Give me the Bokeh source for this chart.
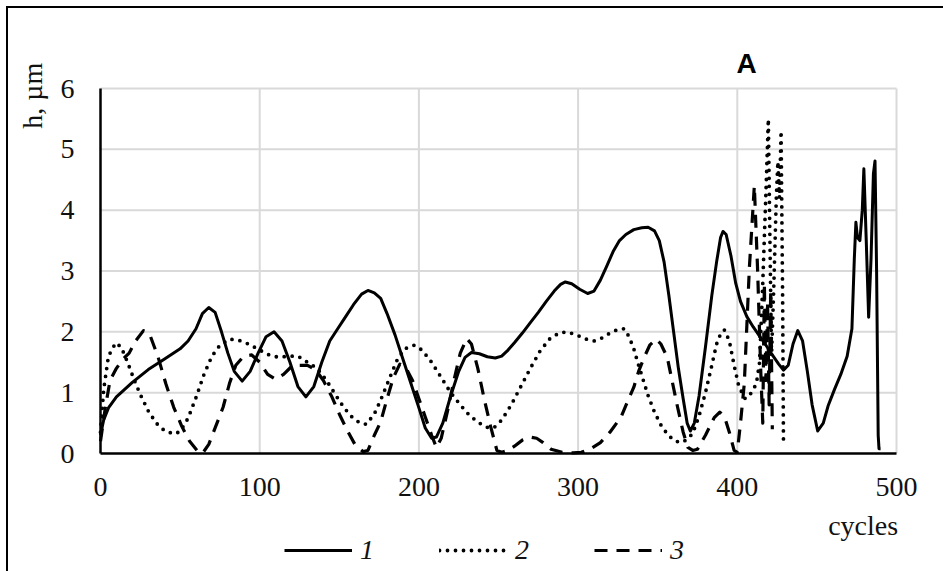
import math
from bokeh.plotting import figure
from bokeh.models import (Range1d, Legend, LegendItem, FixedTicker, InlineStyleSheet, LinearAxis, Label)
from bokeh.embed import file_html
from bokeh.resources import INLINE

# ---- data ----
x_ticks = [0, 100, 200, 300, 400, 500]
y_ticks = [0, 1, 2, 3, 4, 5, 6]
series_names = ["1", "2", "3"]

s1_x = [0, 2, 5, 10, 15, 20, 30, 40, 50, 55, 60, 64, 68, 72, 76, 80, 84, 89, 94, 99, 104, 109, 114, 119, 124,
        129, 134, 139, 144, 149, 154, 159, 164, 168, 172, 176, 180, 185, 190, 195, 200, 204, 208, 211, 215,
        220, 225, 229, 233, 238, 243, 248, 252, 256, 260, 265, 270, 275, 280, 285, 289, 292, 296, 301, 306,
        310, 314, 318, 322, 326, 330, 335, 340, 344, 348, 351, 354, 357, 360, 363, 366, 368.5, 370.5, 373,
        376, 380, 384, 387, 389.5, 391, 393, 396, 399, 402, 406, 410, 414, 418, 422, 426, 429, 432, 435, 438,
        441, 444, 447, 450.5, 454, 457, 461, 465, 469, 472, 473.5, 474.5, 475.5, 477, 478.5, 479.5, 481,
        482.5, 484, 485.5, 486.5, 487.5, 488.5, 489, 490]
s1_y = [0.3, 0.55, 0.75, 0.93, 1.05, 1.17, 1.38, 1.55, 1.72, 1.85, 2.05, 2.3, 2.4, 2.32, 2.0, 1.65, 1.35, 1.19,
        1.35, 1.65, 1.92, 2.0, 1.85, 1.5, 1.1, 0.93, 1.1, 1.5, 1.85, 2.05, 2.25, 2.45, 2.62, 2.68, 2.64, 2.55,
        2.3, 1.95, 1.55, 1.15, 0.75, 0.42, 0.25, 0.27, 0.5, 0.95, 1.35, 1.58, 1.66, 1.64, 1.59, 1.57, 1.6, 1.7,
        1.82, 1.98, 2.15, 2.32, 2.5, 2.67, 2.78, 2.82, 2.79, 2.7, 2.63, 2.67, 2.85, 3.08, 3.32, 3.5, 3.6, 3.68,
        3.71, 3.72, 3.66, 3.5, 3.15, 2.6, 2.0, 1.4, 0.9, 0.5, 0.37, 0.5, 0.95, 1.75, 2.6, 3.15, 3.55, 3.65,
        3.6, 3.25, 2.8, 2.5, 2.25, 2.08, 1.93, 1.78, 1.62, 1.47, 1.37, 1.45, 1.8, 2.02, 1.85, 1.35, 0.8, 0.37,
        0.5, 0.78, 1.05, 1.3, 1.6, 2.05, 3.2, 3.8, 3.55, 3.5, 4.0, 4.68, 3.5, 2.24, 3.2, 4.6, 4.81, 3.0, 0.3,
        0.08, 0.08]

s2_x = [0, 2, 5, 9.5, 13, 17, 21, 25, 30, 35, 40, 46, 50, 55, 60, 65, 70, 75, 81, 87, 93, 100, 106, 112, 118,
        124, 130, 136, 142, 148, 153, 158, 163, 167, 172, 176, 181, 186, 191, 197, 202, 208, 214, 220, 226,
        232, 238, 243, 247, 252, 258, 264, 270, 276, 282, 288, 293, 299, 305, 310, 315, 320, 325, 329, 332,
        335, 338, 341, 344, 348, 352, 356, 360, 364, 368, 372, 376, 380, 384, 387, 390, 392, 395, 398, 401,
        405, 409, 412, 414, 416, 418, 419.5, 420.5, 421.5, 423, 424.5, 425.5, 426.5, 427.5, 428.5, 429]
s2_y = [0.35, 1.05, 1.6, 1.82, 1.75, 1.5, 1.22, 0.97, 0.7, 0.5, 0.38, 0.32, 0.36, 0.58, 0.92, 1.3, 1.6, 1.78,
        1.88, 1.86, 1.8, 1.7, 1.62, 1.58, 1.6, 1.6, 1.5, 1.4, 1.2, 0.95, 0.75, 0.6, 0.5, 0.48, 0.65, 0.88, 1.2,
        1.52, 1.72, 1.78, 1.7, 1.5, 1.25, 1.0, 0.8, 0.62, 0.5, 0.43, 0.42, 0.55, 0.8, 1.1, 1.4, 1.68, 1.88,
        1.98, 2.0, 1.95, 1.88, 1.85, 1.9, 1.98, 2.04, 2.05, 1.92, 1.72, 1.45, 1.2, 0.95, 0.68, 0.47, 0.32,
        0.22, 0.18, 0.22, 0.33, 0.62, 1.0, 1.45, 1.8, 2.0, 2.03, 1.85, 1.45, 1.1, 0.9, 1.0, 1.15, 1.5, 2.8,
        4.3, 5.5, 3.5, 1.6, 2.8, 4.2, 4.8, 4.2, 5.3, 2.5, 0.2]

s3_x = [0, 3, 6, 10, 14, 18, 22, 27, 31, 36, 41, 46, 51, 56, 61, 64, 68, 72, 77, 81, 85, 90, 95, 100, 105,
        110, 115, 120, 125, 130, 135, 140, 145, 150, 155, 160, 165, 168, 172, 176, 180, 184, 188, 192, 196,
        200, 204, 208, 211, 214, 218, 222, 226, 230, 233, 237, 241, 245, 249, 252, 256, 260, 265, 270, 274,
        278, 283, 290, 297, 302, 308, 314, 320, 327, 331, 335, 338, 341.5, 345, 349, 352, 356, 359, 362.5,
        366, 369, 372, 375, 380, 385.5, 389, 392, 395, 398, 400, 402, 404.4, 407.6, 410.7, 412.7, 414.8, 416,
        417, 418, 419, 420, 421, 422]
s3_y = [0.2, 0.75, 1.2, 1.4, 1.55, 1.65, 1.85, 2.02, 1.95, 1.6, 1.15, 0.76, 0.45, 0.2, 0.04, 0.0, 0.15, 0.42,
        0.76, 1.15, 1.45, 1.6, 1.62, 1.5, 1.3, 1.22, 1.3, 1.43, 1.45, 1.45, 1.38, 1.2, 0.95, 0.65, 0.38, 0.14,
        0.03, 0.05, 0.3, 0.52, 0.9, 1.25, 1.47, 1.4, 1.2, 0.9, 0.6, 0.3, 0.1, 0.25, 0.7, 1.2, 1.65, 1.89, 1.8,
        1.4, 0.9, 0.45, 0.05, 0.02, 0.05, 0.12, 0.22, 0.27, 0.25, 0.18, 0.07, 0.02, 0.01, 0.02, 0.08, 0.18,
        0.35, 0.6, 0.85, 1.09, 1.35, 1.58, 1.78, 1.88, 1.8, 1.58, 1.2, 0.76, 0.35, 0.1, 0.05, 0.07, 0.3, 0.59,
        0.68, 0.6, 0.35, 0.05, 0.02, 0.5, 1.15, 3.06, 4.4, 3.06, 1.31, 0.5, 2.8, 1.2, 2.5, 0.8, 2.7, 0.4]

SERIF = "Liberation Serif"
SANS = "Liberation Sans"
FS = "28px"
TXT = "#111111"
GRID = "#d9d9d9"

frame_css = InlineStyleSheet(css="""
:host::after {
  content: ""; position: absolute; left: 6px; top: 6px;
  width: 937px; height: 565px; box-sizing: border-box;
  border-left: 2.5px solid black; border-top: 2.5px solid black;
  pointer-events: none;
}
""")

# The frame covers the whole page; the 0..500 x 0..6 plotting area sits at
# px x 100..896 and px y 88..453, texts and legend live in the margins of the frame.
W, H = 943, 571
PX_X = 796 / 500.0
PX_Y = 365 / 6.0
x_lo, x_hi = -100 / PX_X, (W - 100) / PX_X
y_lo, y_hi = -(H - 453) / PX_Y, 6 + 88 / PX_Y

p = figure(frame_width=W, frame_height=H, output_backend="svg", toolbar_location=None,
           x_range=Range1d(x_lo, x_hi), y_range=Range1d(y_lo, y_hi),
           x_axis_location=None, y_axis_location=None,
           min_border_left=0, min_border_right=0, min_border_top=0, min_border_bottom=0)
p.stylesheets = [frame_css]
p.outline_line_color = None
p.background_fill_color = "white"
p.border_fill_color = "white"
p.grid.visible = False

xaxis = LinearAxis(fixed_location=0)
yaxis = LinearAxis(fixed_location=0)
p.add_layout(xaxis, "below")
p.add_layout(yaxis, "left")

for ax, ticks in ((xaxis, x_ticks), (yaxis, y_ticks)):
    ax.ticker = FixedTicker(ticks=ticks)
    ax.bounds = (ticks[0], ticks[-1])
    ax.axis_line_color = "black"
    ax.axis_line_width = 2.5
    ax.major_tick_line_color = None
    ax.minor_tick_line_color = None
    ax.major_tick_out = 0
    ax.major_tick_in = 0
    ax.major_label_text_font = SERIF
    ax.major_label_text_font_size = FS
    ax.major_label_text_color = TXT
xaxis.major_label_standoff = 24
yaxis.major_label_standoff = 26

# grid lines over the plotting area only
p.segment(x0=x_ticks[1:], y0=[y_ticks[0]] * (len(x_ticks) - 1),
          x1=x_ticks[1:], y1=[y_ticks[-1]] * (len(x_ticks) - 1),
          line_color=GRID, line_width=2, level="underlay")
p.segment(x0=[x_ticks[0]] * (len(y_ticks) - 1), y0=y_ticks[1:],
          x1=[x_ticks[-1]] * (len(y_ticks) - 1), y1=y_ticks[1:],
          line_color=GRID, line_width=2, level="underlay")

r1 = p.line(s1_x, s1_y, line_color="black", line_width=3, line_join="round")
r2 = p.line(s2_x, s2_y, line_color="black", line_width=3.8, line_dash="0 8", line_cap="round",
            line_join="round")
r3 = p.line(s3_x, s3_y, line_color="black", line_width=3.2, line_dash="13 9", line_join="round")

# texts
p.add_layout(Label(x=405.8, y=6.41, text="A", text_font=SANS, text_font_style="bold",
                   text_font_size="28px", text_align="center", text_baseline="middle",
                   text_color="black"))
p.add_layout(Label(x=-42.7, y=5.88, text="h, µm", text_font=SERIF, text_font_size=FS,
                   angle=math.pi / 2, text_align="center", text_baseline="middle", text_color=TXT))
p.add_layout(Label(x=501, y=-1.18, text="cycles", text_font=SERIF, text_font_size=FS,
                   text_align="right", text_baseline="middle", text_color=TXT))

legend = Legend(items=[LegendItem(label=series_names[0], renderers=[r1]),
                       LegendItem(label=series_names[1], renderers=[r2]),
                       LegendItem(label=series_names[2], renderers=[r3])],
                orientation="horizontal", location=(284, 5),
                glyph_width=68, glyph_height=22, label_height=22, label_width=20,
                label_standoff=8, spacing=59, padding=0, margin=0,
                label_text_font=SERIF, label_text_font_size=FS, label_text_font_style="italic",
                label_text_color=TXT,
                border_line_color=None, background_fill_alpha=0)
p.add_layout(legend, "center")

open("out.html", "w").write(file_html(p, INLINE))
